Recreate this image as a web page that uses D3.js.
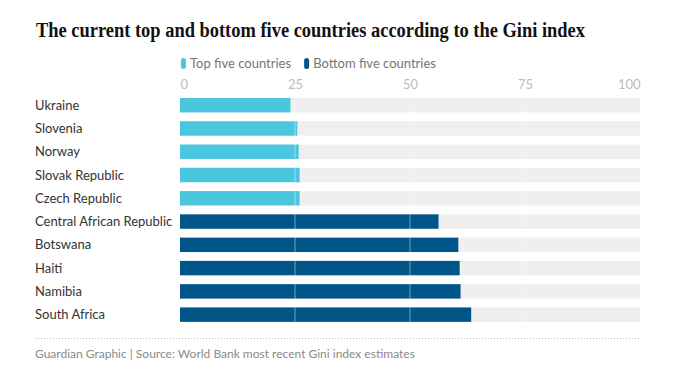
<!DOCTYPE html>
<html>
<head>
<meta charset="utf-8">
<script src="https://cdn.jsdelivr.net/npm/d3@7"></script>
<style>
  body { margin: 0; background: #fff; }
  text { font-family: Lato, "Open Sans", sans-serif; }
</style>
</head>
<body>
<svg id="chart"></svg>
<script>
// Gini index, most recent World Bank estimates
const countries = ["Ukraine", "Slovenia", "Norway", "Slovak Republic", "Czech Republic",
  "Central African Republic", "Botswana", "Haiti", "Namibia", "South Africa"];
const giniValues = [24.0, 25.5, 25.8, 26.0, 26.0, 56.2, 60.5, 60.8, 61.0, 63.3];
const groups = ["Top five countries", "Top five countries", "Top five countries", "Top five countries", "Top five countries",
  "Bottom five countries", "Bottom five countries", "Bottom five countries", "Bottom five countries", "Bottom five countries"];
const legendLabels = ["Top five countries", "Bottom five countries"];
const xTicks = [0, 25, 50, 75, 100];

const data = countries.map((c, i) => ({ country: c, value: giniValues[i], group: groups[i] }));

const width = 690, height = 377;
const margin = { top: 98, right: 50, bottom: 50, left: 180 };
const rowStep = 23.27, pad = 0.38;

const svg = d3.select("#chart").attr("width", width).attr("height", height);

const colour = d3.scaleOrdinal().domain(legendLabels).range(["#4bc6df", "#005689"]);

const x = d3.scaleLinear().domain([0, 100]).range([margin.left, width - margin.right]);
const y = d3.scaleBand().domain(countries)
  .range([margin.top, margin.top + rowStep * (countries.length - pad)])
  .paddingInner(pad).paddingOuter(0);

// Title: fit to the reference width
const title = svg.append("text")
  .attr("x", 36).attr("y", 37)
  .style("font-family", "'Liberation Serif', serif")
  .style("font-weight", "bold")
  .style("font-size", "20px")
  .style("fill", "#121212")
  .text("The current top and bottom five countries according to the Gini index");
const tw = title.node().getComputedTextLength();
if (tw > 549) title.attr("textLength", 549).attr("lengthAdjust", "spacingAndGlyphs");

// Legend
const legend = svg.append("g").attr("transform", "translate(181,58)");
let lx = 0;
legendLabels.forEach((lab) => {
  const g = legend.append("g").attr("transform", `translate(${lx},0)`);
  g.append("rect").attr("width", 5).attr("height", 11).attr("rx", 2.5)
    .attr("fill", colour(lab));
  const t = g.append("text").attr("x", 9).attr("y", 10)
    .style("font-size", "13px").style("fill", "#767676").text(lab);
  lx += 9 + t.node().getComputedTextLength() + 13;
});

// Axis on top
const xAxis = d3.axisTop(x).tickValues(xTicks).tickSize(0).tickPadding(0);
const axisG = svg.append("g")
  .attr("transform", `translate(0,${margin.top - 8})`)
  .call(xAxis);
axisG.select(".domain").remove();
axisG.selectAll("text")
  .style("font-size", "13px")
  .style("fill", "#bdbdbd")
  .attr("text-anchor", (d) => (d === 0 ? "start" : d === 100 ? "end" : "middle"))
  .attr("y", -1);

// Background tracks
svg.append("g").selectAll("rect")
  .data(data).join("rect")
  .attr("x", x(0)).attr("y", (d) => y(d.country))
  .attr("width", x(100) - x(0)).attr("height", y.bandwidth())
  .attr("fill", "#efefef");

// Bars
svg.append("g").selectAll("rect")
  .data(data).join("rect")
  .attr("x", x(0)).attr("y", (d) => y(d.country))
  .attr("width", (d) => x(d.value) - x(0)).attr("height", y.bandwidth())
  .attr("fill", (d) => colour(d.group));

// Grid lines over bars
svg.append("g").selectAll("line")
  .data(xTicks.filter((d) => d > 0 && d < 100)).join("line")
  .attr("x1", (d) => x(d)).attr("x2", (d) => x(d))
  .attr("y1", margin.top - 6).attr("y2", y(countries[countries.length - 1]) + y.bandwidth())
  .attr("stroke", "#fff").attr("stroke-opacity", 0.45).attr("stroke-width", 1);

// Country labels
svg.append("g").selectAll("text")
  .data(data).join("text")
  .attr("x", 35).attr("y", (d) => y(d.country) + y.bandwidth() / 2)
  .attr("dy", "0.35em")
  .style("font-size", "13px").style("fill", "#333")
  .text((d) => d.country);

// Footer
svg.append("line")
  .attr("x1", 35).attr("x2", x(100)).attr("y1", 338.5).attr("y2", 338.5)
  .attr("stroke", "#bbb").attr("stroke-dasharray", "1,2");

svg.append("text")
  .attr("x", 35).attr("y", 358)
  .style("font-size", "12px").style("fill", "#8a8a8a")
  .text("Guardian Graphic | Source: World Bank most recent Gini index estimates");
</script>
</body>
</html>
